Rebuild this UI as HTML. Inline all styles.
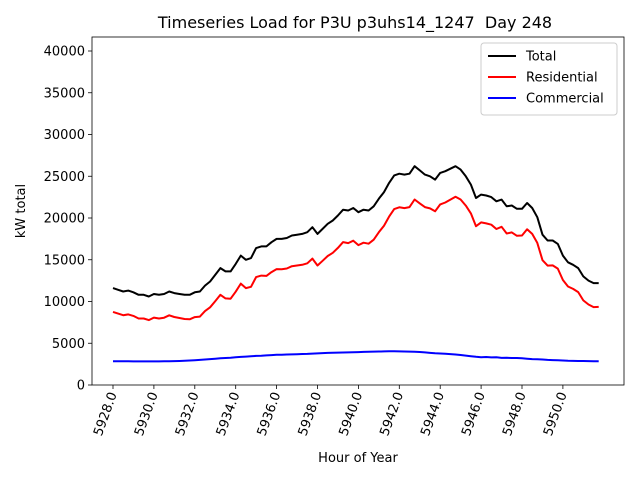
<!DOCTYPE html>
<html><head><meta charset="utf-8"><style>body{margin:0;background:#fff}svg{display:block;font-family:"DejaVu Sans","Liberation Sans",sans-serif}</style></head>
<body>
<svg id="chart" width="640" height="480"></svg>
<script>
const hourStart = 5928;
const hourStep = 0.25;
const xTicks = [5928,5930,5932,5934,5936,5938,5940,5942,5944,5946,5948,5950];
const yTicks = [0,5000,10000,15000,20000,25000,30000,35000,40000];
const totalValues = [11600,11400,11200,11300,11100,10800,10800,10600,10900,10800,10900,11200,11000,10900,10800,10800,11100,11200,11900,12400,13200,14000,13600,13600,14500,15500,15000,15200,16400,16600,16600,17100,17500,17500,17600,17900,18000,18100,18300,18900,18100,18700,19300,19700,20300,21000,20900,21200,20700,21000,20900,21400,22300,23100,24200,25100,25300,25200,25300,26200,25700,25200,25000,24600,25400,25600,25900,26200,25800,25000,24000,22400,22800,22700,22500,22000,22200,21400,21500,21100,21100,21800,21200,20100,18000,17300,17300,16900,15500,14700,14400,14000,13000,12500,12200,12200];
const residentialValues = [8750,8550,8360,8460,8270,7970,7970,7770,8070,7970,8060,8350,8140,8020,7900,7870,8130,8190,8850,9300,10050,10800,10370,10340,11170,12140,11600,11760,12920,13100,13060,13520,13880,13870,13950,14230,14310,14390,14570,15140,14310,14880,15450,15830,16420,17110,17000,17280,16760,17040,16920,17400,18290,19080,20170,21070,21280,21190,21300,22220,21750,21300,21150,20800,21630,21860,22200,22550,22210,21480,20550,19020,19470,19350,19200,18680,18950,18140,18270,17870,17900,18650,18100,17020,14950,14300,14320,13940,12570,11800,11510,11120,10130,9640,9330,9350];
const commercialValues = [2850,2850,2840,2840,2830,2830,2830,2830,2830,2830,2840,2850,2860,2880,2900,2930,2970,3010,3050,3100,3150,3200,3230,3260,3330,3360,3400,3440,3480,3500,3540,3580,3620,3630,3650,3670,3690,3710,3730,3760,3790,3820,3850,3870,3880,3890,3900,3920,3940,3960,3980,4000,4010,4020,4030,4030,4020,4010,4000,3980,3950,3900,3850,3800,3770,3740,3700,3650,3590,3520,3450,3380,3330,3350,3300,3320,3250,3260,3230,3230,3200,3150,3100,3080,3050,3000,2980,2960,2930,2900,2890,2880,2870,2860,2850,2850];

const NS="http://www.w3.org/2000/svg";
const svg=document.getElementById('chart');
const L=92,R=624,T=37,B=385;
const X=h=>113+(h-5928)*20.45;
const Y=v=>B-v*41.75/5000;
function mk(tag,attrs,parent){const e=document.createElementNS(NS,tag);for(const k in attrs)e.setAttribute(k,attrs[k]);(parent||svg).appendChild(e);return e;}

const title=mk('text',{x:355,y:28,'text-anchor':'middle','font-size':16,style:'white-space:pre'});


title.textContent='Timeseries Load for P3U p3uhs14_1247  Day 248';

const gx=mk('g',{});


xTicks.forEach(t=>{
  const x=X(t);
  mk('line',{x1:x,x2:x,y1:B,y2:B+4,stroke:'#000','stroke-width':0.8},gx);
  const lb=mk('text',{x:0,y:0,'font-size':13,'text-anchor':'end',transform:`translate(${x+4},${B+9}) rotate(-70)`},gx);
  
  
  lb.textContent=t.toFixed(1);
});
const gy=mk('g',{});


yTicks.forEach(t=>{
  const y=Y(t);
  mk('line',{x1:L-4,x2:L,y1:y,y2:y,stroke:'#000','stroke-width':0.8},gy);
  const lb=mk('text',{x:L-7,y:y+4.5,'font-size':13,'text-anchor':'end'},gy);
  
  
  lb.textContent=t;
});
const xt=mk('text',{x:358,y:462,'text-anchor':'middle','font-size':13});


xt.textContent='Hour of Year';
const yt=mk('text',{x:0,y:0,'text-anchor':'middle','font-size':13,transform:'translate(25,211) rotate(-90)'});


yt.textContent='kW total';

function series(vals,color,name){
  const pts=vals.map((v,i)=>X(hourStart+i*hourStep).toFixed(1)+','+Y(v).toFixed(1)).join(' ');
  const p=mk('polyline',{points:pts,fill:'none',stroke:color,'stroke-width':2,'stroke-linejoin':'round'});
  
  
}
series(totalValues,'#000','total-line');
series(residentialValues,'#f00','residential-line');
series(commercialValues,'#00f','commercial-line');

const frame=mk('rect',{x:L,y:T,width:R-L,height:B-T,fill:'none',stroke:'#000','stroke-width':0.8});



const lg=mk('g',{});


mk('rect',{x:481,y:43,width:136,height:72,rx:3,fill:'#fff','fill-opacity':0.8,stroke:'#ccc','stroke-width':1},lg);
[['Total','#000'],['Residential','#f00'],['Commercial','#00f']].forEach((e,i)=>{
  const y=56+i*21;
  const ge=mk('g',{},lg);
  
  
  mk('line',{x1:488,x2:516,y1:y,y2:y,stroke:e[1],'stroke-width':2},ge);
  const t=mk('text',{x:526,y:y+4.5,'font-size':13},ge);
  t.textContent=e[0];
});
</script>
</body></html>
